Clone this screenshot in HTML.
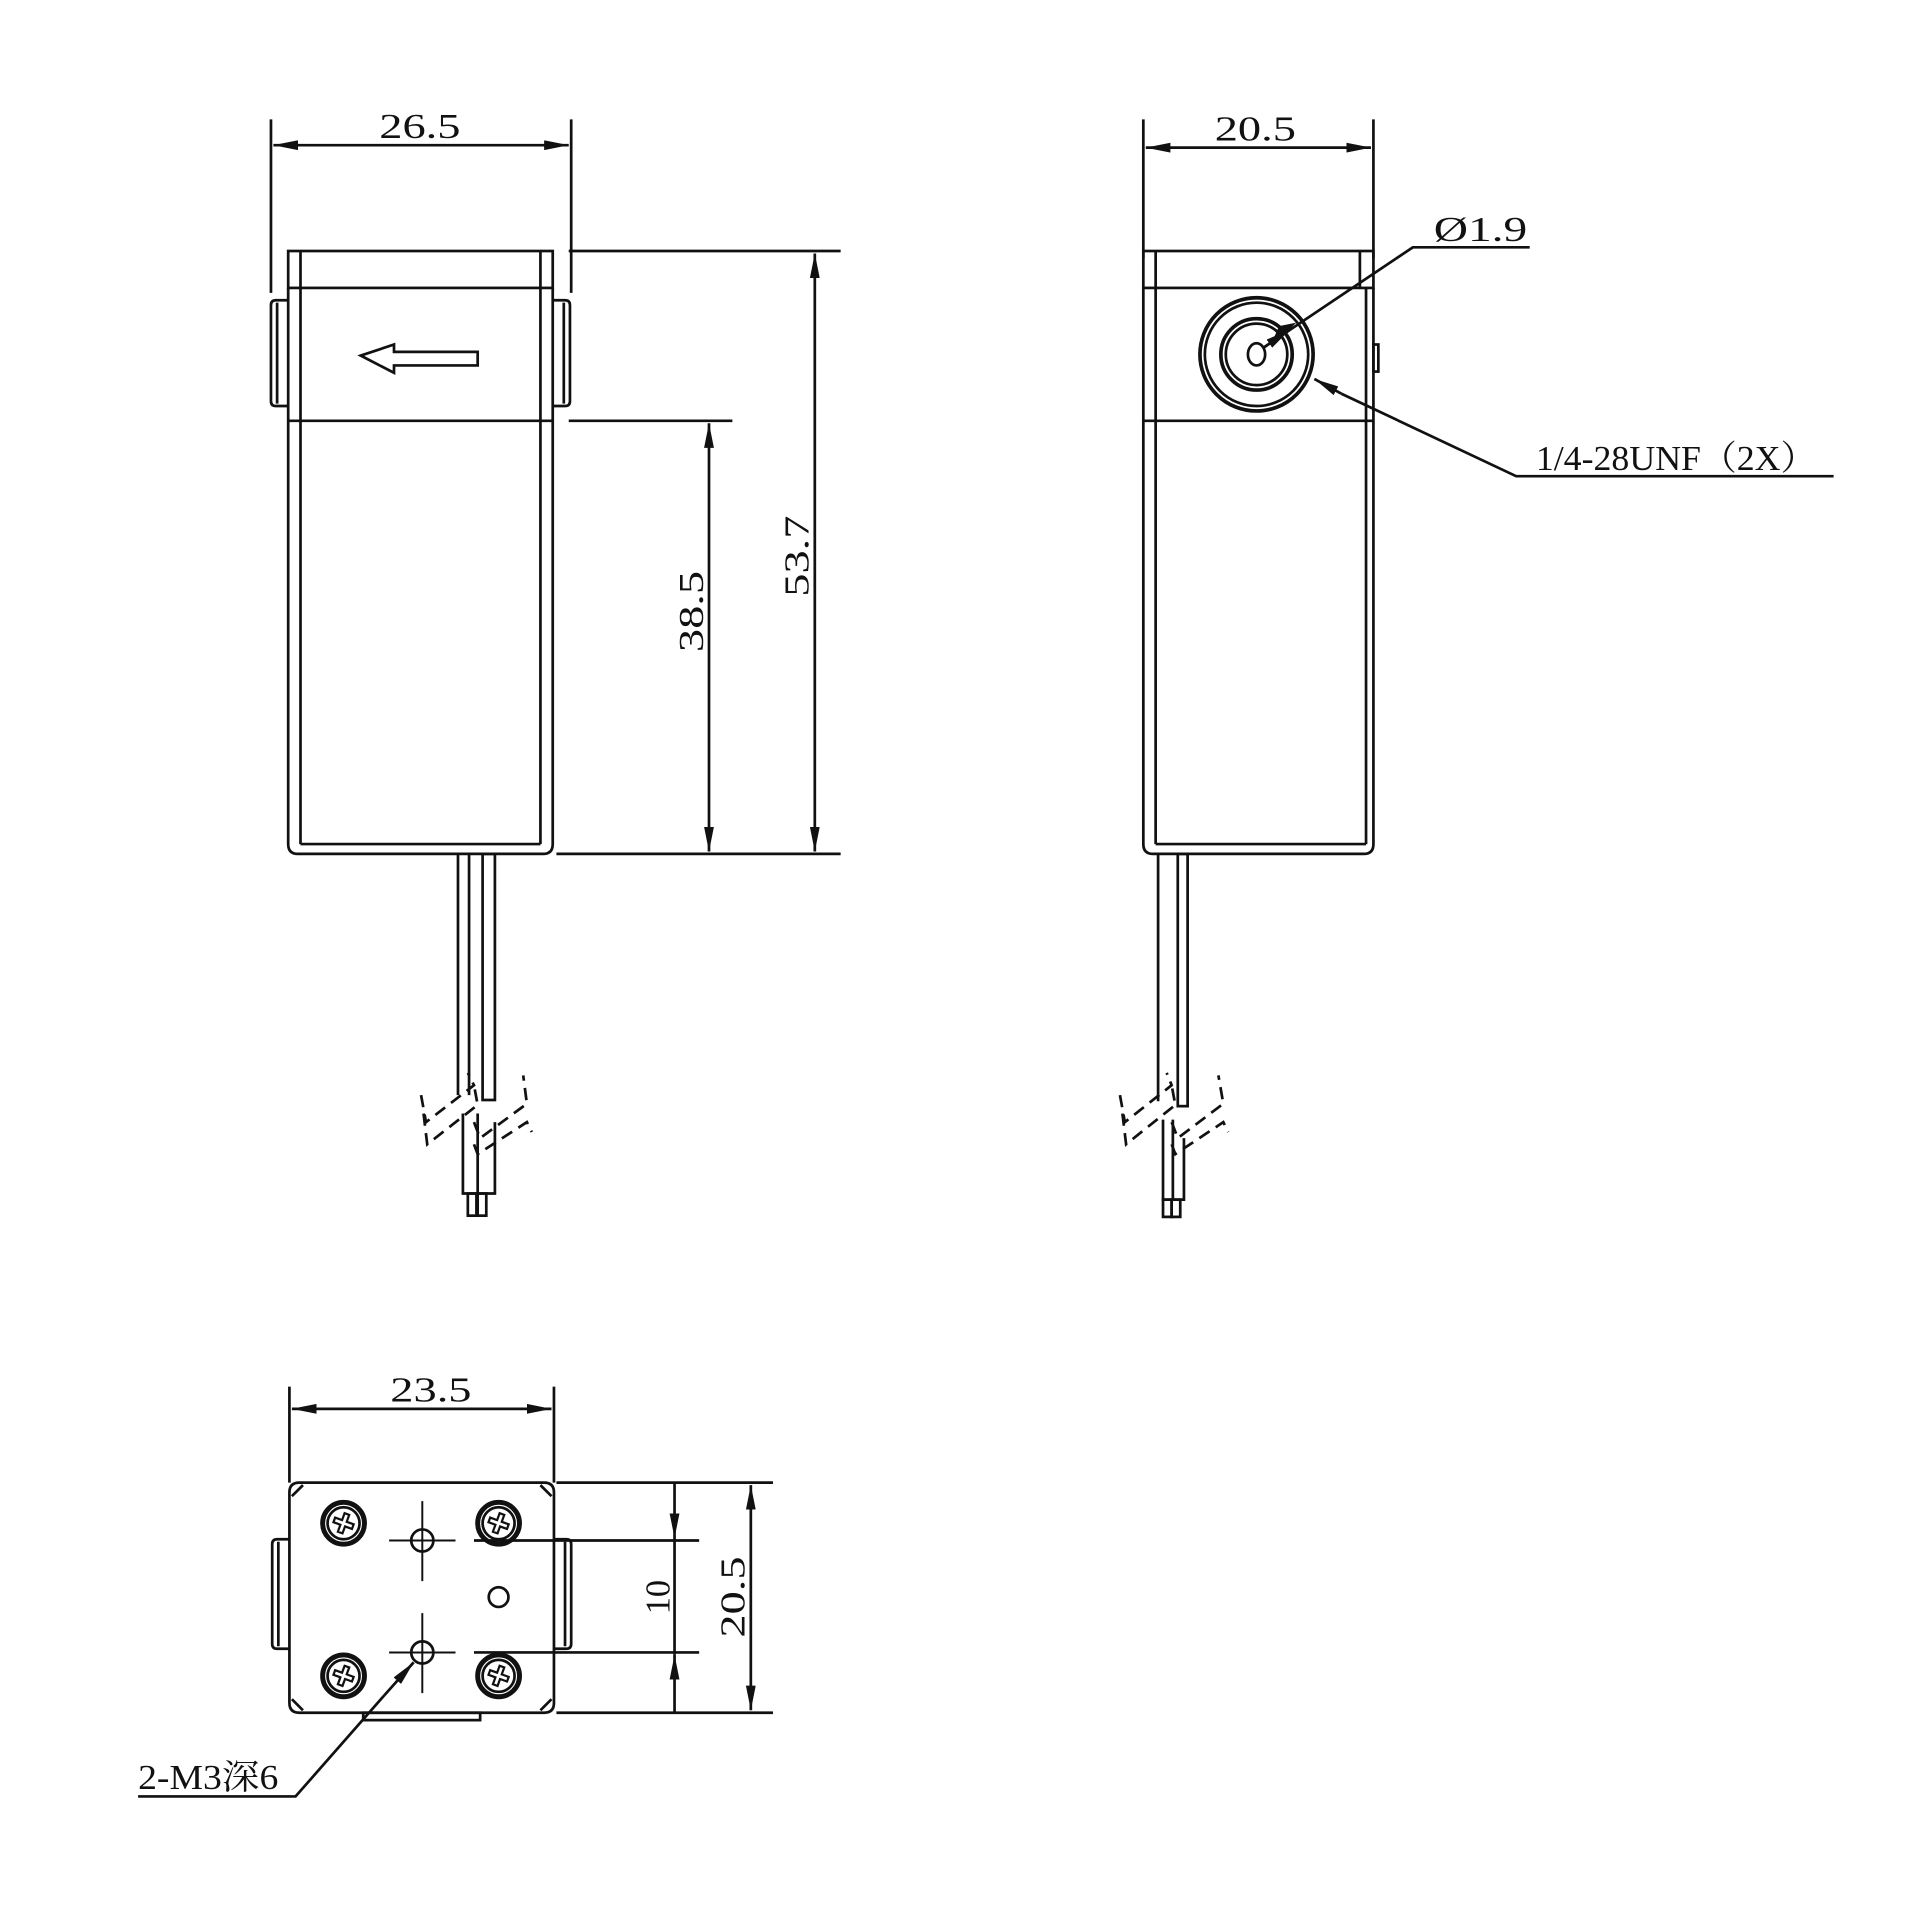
<!DOCTYPE html>
<html><head><meta charset="utf-8"><style>
html,body{margin:0;padding:0;background:#fff;}
svg{display:block;}
text{font-family:"Liberation Serif","Noto Serif CJK SC",serif;fill:#111;}
</style></head><body>
<svg width="1920" height="1917" viewBox="0 0 1560 1558" xmlns="http://www.w3.org/2000/svg">
<defs>
<marker id="a" viewBox="0 0 20 8" refX="20" refY="4" markerWidth="20" markerHeight="8" markerUnits="userSpaceOnUse" orient="auto-start-reverse"><path d="M0,0 L20,4 L0,8 Z" fill="#111"/></marker>
</defs>
<g stroke="#111" stroke-width="2.2" fill="none">
<!-- FRONT VIEW -->
<line x1="220" y1="97" x2="220" y2="238"/><line x1="464" y1="97" x2="464" y2="238"/>
<line x1="222" y1="118" x2="462" y2="118" marker-start="url(#a)" marker-end="url(#a)"/>
<rect x="234" y="204" width="215" height="30"/>
<line x1="244" y1="204" x2="244" y2="234"/><line x1="439" y1="204" x2="439" y2="234"/>
<path d="M234,234 V686 Q234,694 242,694 H441 Q449,694 449,686 V234"/>
<line x1="244" y1="234" x2="244" y2="686"/><line x1="439" y1="234" x2="439" y2="686"/>
<line x1="234" y1="342" x2="449" y2="342"/>
<line x1="244" y1="686" x2="439" y2="686"/>
<path d="M234,244 H224 Q220,244 220,248 V326 Q220,330 224,330 H234"/><line x1="225" y1="246" x2="225" y2="328"/>
<path d="M449,244 H459 Q463,244 463,248 V326 Q463,330 459,330 H449"/><line x1="458" y1="246" x2="458" y2="328"/>
<path d="M293,289 L320,280 L320,286 L388,286 L388,297 L320,297 L320,303 Z"/>
<line x1="462" y1="204" x2="683" y2="204"/>
<line x1="462" y1="342" x2="595" y2="342"/>
<line x1="452" y1="694" x2="683" y2="694"/>
<line x1="576" y1="344" x2="576" y2="692" marker-start="url(#a)" marker-end="url(#a)"/>
<line x1="662" y1="206" x2="662" y2="692" marker-start="url(#a)" marker-end="url(#a)"/>
<!-- wires front -->
<line x1="372" y1="694" x2="372" y2="890"/><line x1="381" y1="694" x2="381" y2="890"/>
<rect x="392" y="694" width="10" height="200"/>
<path d="M376,905 V970 H402 V912"/><line x1="388" y1="905" x2="388" y2="970"/>
<rect x="380" y="970" width="7" height="18"/><rect x="388" y="970" width="7" height="18"/>
<g stroke-dasharray="10,6">
<path d="M342,890 L346,912 L385,882 L380,872"/>
<path d="M344,905 L347,930 L388,898 L385,882"/>
<path d="M385,912 L390,925 L428,897 L425,874"/>
<path d="M385,930 L388,938 L428,912 L432,920"/>
</g>
<!-- SIDE VIEW -->
<line x1="929" y1="97" x2="929" y2="210"/><line x1="1116" y1="97" x2="1116" y2="210"/>
<line x1="931" y1="120" x2="1114" y2="120" marker-start="url(#a)" marker-end="url(#a)"/>
<rect x="929" y="204" width="187" height="30"/>
<line x1="939" y1="204" x2="939" y2="234"/><line x1="1105" y1="204" x2="1105" y2="234"/>
<path d="M929,234 V686 Q929,694 937,694 H1108 Q1116,694 1116,686 V234"/>
<line x1="939" y1="234" x2="939" y2="686"/><line x1="1110" y1="234" x2="1110" y2="686"/>
<line x1="929" y1="342" x2="1116" y2="342"/>
<line x1="939" y1="686" x2="1110" y2="686"/>
<rect x="1116" y="280" width="4" height="22"/>
<circle cx="1021" cy="288" r="46" stroke-width="3"/><circle cx="1021" cy="288" r="42"/>
<circle cx="1021" cy="288" r="29" stroke-width="3"/><circle cx="1021" cy="288" r="25"/>
<ellipse cx="1021" cy="288" rx="7" ry="9"/>
<polyline points="1243,201 1148,201 1026,283"/>
<path d="M1050,264 L1034,280 L1040,266 Z" fill="#111"/>
<line x1="1026" y1="283" x2="1048" y2="268" marker-end="url(#a)"/>
<polyline points="1490,387 1232,387 1090,320"/>
<line x1="1090" y1="320" x2="1068" y2="308" marker-end="url(#a)"/>
<!-- wires side -->
<line x1="941" y1="694" x2="941" y2="895"/>
<rect x="957" y="694" width="8" height="205"/>
<path d="M945,910 V975 H962 V925"/><line x1="953" y1="910" x2="953" y2="975"/>
<rect x="945" y="975" width="7" height="14"/><rect x="952" y="975" width="7" height="14"/>
<g stroke-dasharray="10,6">
<path d="M910,890 L914,912 L952,882 L948,872"/>
<path d="M912,905 L915,930 L955,898 L952,882"/>
<path d="M952,912 L957,925 L994,897 L990,874"/>
<path d="M952,930 L955,938 L994,912 L998,920"/>
</g>
<!-- BOTTOM VIEW -->
<line x1="235" y1="1127" x2="235" y2="1205"/><line x1="450" y1="1127" x2="450" y2="1205"/>
<line x1="237" y1="1145" x2="448" y2="1145" marker-start="url(#a)" marker-end="url(#a)"/>
<path d="M243,1205 H442 Q450,1205 450,1213 V1384 Q450,1392 442,1392 H243 Q235,1392 235,1384 V1213 Q235,1205 243,1205 Z"/>
<line x1="237" y1="1216" x2="246" y2="1207"/><line x1="439" y1="1207" x2="448" y2="1216"/>
<line x1="237" y1="1381" x2="246" y2="1390"/><line x1="439" y1="1390" x2="448" y2="1381"/>
<path d="M235,1251 H225 Q221,1251 221,1255 V1336 Q221,1340 225,1340 H235"/><line x1="226" y1="1253" x2="226" y2="1338"/>
<path d="M450,1251 H460 Q464,1251 464,1255 V1336 Q464,1340 460,1340 H450"/><line x1="459" y1="1253" x2="459" y2="1338"/>
<rect x="295" y="1392" width="95" height="6"/>
<g>
<circle cx="279" cy="1238" r="17" stroke-width="4"/><circle cx="279" cy="1238" r="13"/>
<circle cx="405" cy="1238" r="17" stroke-width="4"/><circle cx="405" cy="1238" r="13"/>
<circle cx="279" cy="1362" r="17" stroke-width="4"/><circle cx="279" cy="1362" r="13"/>
<circle cx="405" cy="1362" r="17" stroke-width="4"/><circle cx="405" cy="1362" r="13"/>
</g>
<g stroke-width="1.8">
<path transform="translate(279,1238) rotate(20)" d="M-2,-8 H2 V-2 H8 V2 H2 V8 H-2 V2 H-8 V-2 H-2 Z"/>
<path transform="translate(405,1238) rotate(20)" d="M-2,-8 H2 V-2 H8 V2 H2 V8 H-2 V2 H-8 V-2 H-2 Z"/>
<path transform="translate(279,1362) rotate(20)" d="M-2,-8 H2 V-2 H8 V2 H2 V8 H-2 V2 H-8 V-2 H-2 Z"/>
<path transform="translate(405,1362) rotate(20)" d="M-2,-8 H2 V-2 H8 V2 H2 V8 H-2 V2 H-8 V-2 H-2 Z"/>
</g>
<circle cx="343" cy="1252" r="9"/><circle cx="343" cy="1343" r="9"/><circle cx="405" cy="1298" r="8"/>
<g stroke-width="1.6">
<line x1="343" y1="1220" x2="343" y2="1285"/><line x1="343" y1="1311" x2="343" y2="1376"/>
<line x1="316" y1="1252" x2="370" y2="1252"/><line x1="316" y1="1343" x2="370" y2="1343"/>
</g>
<line x1="385" y1="1252" x2="568" y2="1252"/><line x1="385" y1="1343" x2="568" y2="1343"/>
<line x1="452" y1="1205" x2="628" y2="1205"/><line x1="452" y1="1392" x2="628" y2="1392"/>
<line x1="548" y1="1205" x2="548" y2="1250" marker-end="url(#a)"/>
<line x1="548" y1="1392" x2="548" y2="1345" marker-end="url(#a)"/>
<line x1="548" y1="1250" x2="548" y2="1345"/>
<line x1="610" y1="1207" x2="610" y2="1390" marker-start="url(#a)" marker-end="url(#a)"/>
<polyline points="112,1460 240,1460 312,1378"/>
<line x1="312" y1="1378" x2="336" y2="1351" marker-end="url(#a)"/>
</g>
<g font-size="28">
<text x="341" y="112" text-anchor="middle" textLength="66" lengthAdjust="spacingAndGlyphs">26.5</text>
<text x="1020" y="114" text-anchor="middle" textLength="66" lengthAdjust="spacingAndGlyphs">20.5</text>
<text x="350" y="1139" text-anchor="middle" textLength="66" lengthAdjust="spacingAndGlyphs">23.5</text>
<text transform="translate(571,497) rotate(-90)" text-anchor="middle" textLength="66" lengthAdjust="spacingAndGlyphs">38.5</text>
<text transform="translate(657,452) rotate(-90)" text-anchor="middle" textLength="66" lengthAdjust="spacingAndGlyphs">53.7</text>
<text transform="translate(544,1298) rotate(-90)" text-anchor="middle">10</text>
<text transform="translate(605,1298) rotate(-90)" text-anchor="middle" textLength="66" lengthAdjust="spacingAndGlyphs">20.5</text>
<text x="1165" y="196" textLength="76" lengthAdjust="spacingAndGlyphs">Ø1.9</text>
<text x="1248" y="382" textLength="228" lengthAdjust="spacingAndGlyphs">1/4-28UNF（2X）</text>
<text x="112" y="1454" textLength="114" lengthAdjust="spacingAndGlyphs">2-M3深6</text>
</g>
</svg>
</body></html>
